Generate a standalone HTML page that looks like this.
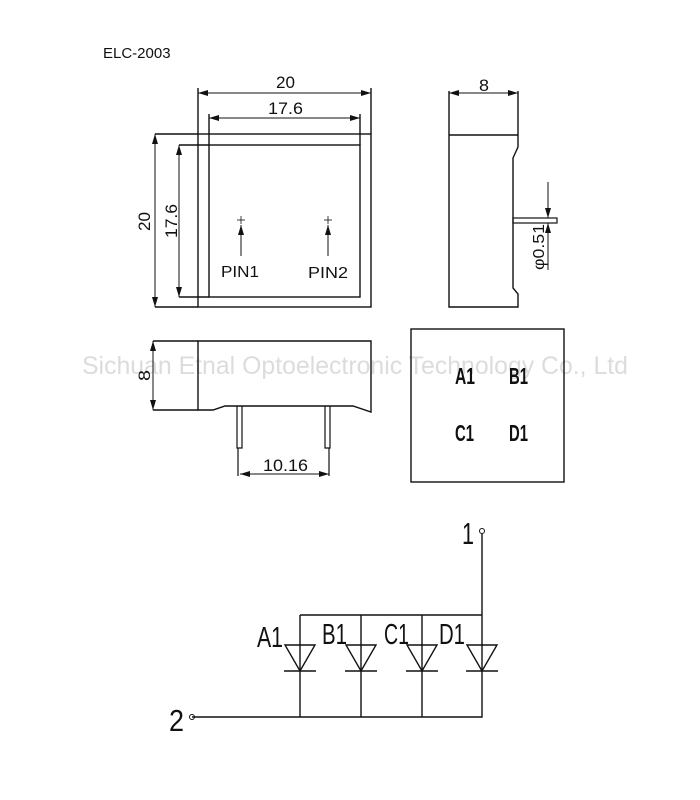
<!DOCTYPE html>
<html><head><meta charset="utf-8"><style>
html,body{margin:0;padding:0;background:#fff;width:700px;height:800px;overflow:hidden}
svg{display:block}
text{font-family:"Liberation Sans",sans-serif;fill:#111}
</style></head><body>
<svg width="700" height="800" viewBox="0 0 700 800" xmlns="http://www.w3.org/2000/svg">
<defs>
<marker id="ar" viewBox="0 0 10 6" refX="10" refY="3" markerWidth="10" markerHeight="6" orient="auto-start-reverse" markerUnits="userSpaceOnUse"><path d="M0,0 L10,3 L0,6 Z" fill="#111"/></marker>
</defs>
<text x="103" y="58" font-size="15">ELC-2003</text>
<text x="82" y="374" font-size="25" style="fill:#dcdcdc" textLength="546" lengthAdjust="spacingAndGlyphs">Sichuan Etnal Optoelectronic Technology Co., Ltd</text>
<g stroke="#111" stroke-width="1.4" fill="none">
<rect x="198" y="134" width="173" height="173"/>
<rect x="209" y="145" width="151" height="152"/>
<line x1="155" y1="134" x2="198" y2="134"/><line x1="155" y1="307" x2="198" y2="307"/>
<line x1="179" y1="145" x2="209" y2="145"/><line x1="179" y1="297" x2="209" y2="297"/>
<line x1="198" y1="88" x2="198" y2="134"/><line x1="371" y1="88" x2="371" y2="134"/>
<line x1="209" y1="114" x2="209" y2="145"/><line x1="360" y1="114" x2="360" y2="145"/>
<line x1="198" y1="93" x2="371" y2="93" marker-start="url(#ar)" marker-end="url(#ar)" stroke-width="1"/>
<line x1="209" y1="118" x2="360" y2="118" marker-start="url(#ar)" marker-end="url(#ar)" stroke-width="1"/>
<line x1="155" y1="134" x2="155" y2="307" marker-start="url(#ar)" marker-end="url(#ar)" stroke-width="1"/>
<line x1="179" y1="145" x2="179" y2="297" marker-start="url(#ar)" marker-end="url(#ar)" stroke-width="1"/>
<line x1="241" y1="256" x2="241" y2="225" marker-end="url(#ar)" stroke-width="1"/>
<line x1="328" y1="256" x2="328" y2="225" marker-end="url(#ar)" stroke-width="1"/>
<line x1="237" y1="220" x2="245" y2="220" stroke-width="0.8"/><line x1="241" y1="216" x2="241" y2="224" stroke-width="0.8"/>
<line x1="324" y1="220" x2="332" y2="220" stroke-width="0.8"/><line x1="328" y1="216" x2="328" y2="224" stroke-width="0.8"/>
<path d="M449,91 V307 H518 V294 L513,288 V158 L518,147 V91"/>
<line x1="449" y1="135" x2="518" y2="135"/>
<line x1="449" y1="93" x2="518" y2="93" marker-start="url(#ar)" marker-end="url(#ar)" stroke-width="1"/>
<rect x="513" y="218" width="44" height="5" stroke-width="1.2"/>
<line x1="548" y1="182" x2="548" y2="218" marker-end="url(#ar)" stroke-width="1"/>
<line x1="548" y1="270" x2="548" y2="223" marker-end="url(#ar)" stroke-width="1"/>
<path d="M198,341 H371 V412 L353,406 H225 L213,410 H198 Z"/>
<line x1="153" y1="341" x2="198" y2="341"/><line x1="153" y1="410" x2="198" y2="410"/>
<line x1="153" y1="341" x2="153" y2="410" marker-start="url(#ar)" marker-end="url(#ar)" stroke-width="1"/>
<path d="M237,406 V448 H242 V406 M238,448 V476" stroke-width="1.2"/>
<path d="M325,406 V448 H330 V406 M329,448 V476" stroke-width="1.2"/>
<line x1="240" y1="474" x2="329" y2="474" marker-start="url(#ar)" marker-end="url(#ar)" stroke-width="1"/>
<rect x="411" y="329" width="153" height="153"/>
<path d="M482,534 V615 H300 M300,615 V717 H482 V615 M361,615 V717 M422,615 V717 M192,717 H300"/>
<g stroke-width="1.4">
<path d="M285,645 H315 L300,671 Z"/><line x1="284" y1="671" x2="316" y2="671"/>
<path d="M346,645 H376 L361,671 Z"/><line x1="345" y1="671" x2="377" y2="671"/>
<path d="M407,645 H437 L422,671 Z"/><line x1="406" y1="671" x2="438" y2="671"/>
<path d="M467,645 H497 L482,671 Z"/><line x1="466" y1="671" x2="498" y2="671"/>
</g>
<circle cx="482" cy="531" r="2.5" stroke-width="1"/>
<circle cx="192" cy="717" r="2.5" stroke-width="1"/>
</g>
<g font-size="17" lengthAdjust="spacingAndGlyphs">
<text x="276" y="88" textLength="19" lengthAdjust="spacingAndGlyphs">20</text>
<text x="268" y="114" textLength="35" lengthAdjust="spacingAndGlyphs">17.6</text>
<text x="479" y="91" textLength="10" lengthAdjust="spacingAndGlyphs">8</text>
<text x="221" y="277" font-size="16" textLength="38" lengthAdjust="spacingAndGlyphs">PIN1</text>
<text x="308" y="278" font-size="16" textLength="40" lengthAdjust="spacingAndGlyphs">PIN2</text>
<text transform="translate(150,231) rotate(-90)" textLength="19" lengthAdjust="spacingAndGlyphs">20</text>
<text transform="translate(177,238) rotate(-90)" textLength="34" lengthAdjust="spacingAndGlyphs">17.6</text>
<text transform="translate(544,270) rotate(-90)" font-size="16" textLength="46" lengthAdjust="spacingAndGlyphs">φ0.51</text>
<text transform="translate(150,381) rotate(-90)" textLength="11" lengthAdjust="spacingAndGlyphs">8</text>
<text x="263" y="471" textLength="45" lengthAdjust="spacingAndGlyphs">10.16</text>
</g>
<g font-size="23" font-weight="bold">
<text x="455" y="384" textLength="20" lengthAdjust="spacingAndGlyphs">A1</text>
<text x="509" y="384" textLength="19" lengthAdjust="spacingAndGlyphs">B1</text>
<text x="455" y="441" textLength="19" lengthAdjust="spacingAndGlyphs">C1</text>
<text x="509" y="441" textLength="19" lengthAdjust="spacingAndGlyphs">D1</text>
</g>
<g font-size="29">
<text x="257" y="647" textLength="26" lengthAdjust="spacingAndGlyphs">A1</text>
<text x="322" y="644" textLength="25" lengthAdjust="spacingAndGlyphs">B1</text>
<text x="384" y="644" textLength="25" lengthAdjust="spacingAndGlyphs">C1</text>
<text x="439" y="644" textLength="26" lengthAdjust="spacingAndGlyphs">D1</text>
<text x="462" y="544" font-size="31" textLength="12" lengthAdjust="spacingAndGlyphs">1</text>
<text x="169" y="731" font-size="31" textLength="15" lengthAdjust="spacingAndGlyphs">2</text>
</g>
</svg>
</body></html>
